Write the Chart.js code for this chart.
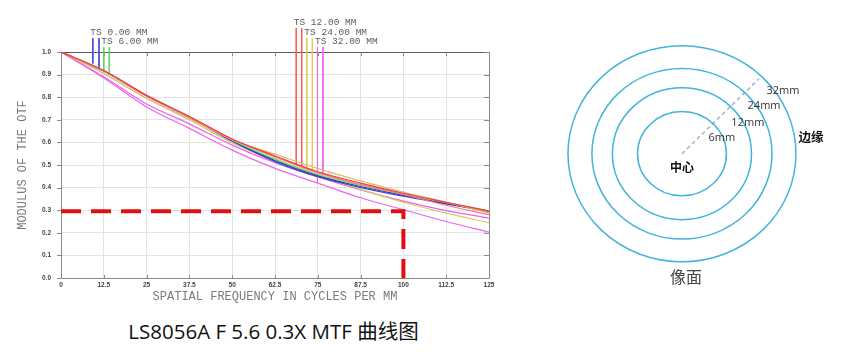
<!DOCTYPE html>
<html><head><meta charset="utf-8">
<script src="https://cdn.jsdelivr.net/npm/chart.js@4"></script>
<style>
html,body{margin:0;padding:0;background:#fff;width:842px;height:357px;overflow:hidden;position:relative;}
#c1{position:absolute;left:0;top:0;}
#c2{position:absolute;left:560px;top:20px;}
#cap{position:absolute;left:0;width:547px;top:317px;text-align:center;font-family:"Open Sans","Noto Sans CJK SC",sans-serif;font-size:20.5px;color:#111;line-height:28px;white-space:nowrap;}
</style></head><body>
<canvas id="c1" width="520" height="310"></canvas>
<canvas id="c2" width="282" height="280"></canvas>
<div id="cap">LS8056A F 5.6 0.3X MTF 曲线图</div>
<script>
// ---------- MTF data ----------
const freqs = [0, 12.5, 25, 37.5, 50, 62.5, 75, 87.5, 100, 112.5, 125];
const xTickLabels = ['0','12.5','25','37.5','50','62.5','75','87.5','100','112.5','125'];
const yTickLabels = ['0.0','0.1','0.2','0.3','0.4','0.5','0.6','0.7','0.8','0.9','1.0'];

const mtf0T  = [1.0, 0.915, 0.805, 0.710, 0.605, 0.515, 0.448, 0.400, 0.362, 0.328, 0.294];
const mtf0S  = [1.0, 0.917, 0.807, 0.712, 0.608, 0.520, 0.452, 0.405, 0.366, 0.330, 0.295];
const mtf6T  = [1.0, 0.916, 0.806, 0.712, 0.610, 0.525, 0.458, 0.410, 0.370, 0.333, 0.296];
const mtf6S  = [1.0, 0.917, 0.807, 0.713, 0.612, 0.528, 0.460, 0.412, 0.372, 0.334, 0.297];
const mtf12T = [1.0, 0.918, 0.808, 0.715, 0.615, 0.540, 0.470, 0.420, 0.375, 0.335, 0.296];
const mtf12S = [1.0, 0.917, 0.806, 0.713, 0.614, 0.536, 0.466, 0.414, 0.370, 0.322, 0.280];
const mtf24T = [1.0, 0.905, 0.795, 0.705, 0.612, 0.548, 0.484, 0.430, 0.380, 0.335, 0.288];
const mtf24S = [1.0, 0.905, 0.795, 0.700, 0.598, 0.520, 0.455, 0.392, 0.335, 0.287, 0.245];
const mtf32T = [1.0, 0.890, 0.770, 0.682, 0.588, 0.510, 0.447, 0.390, 0.340, 0.298, 0.265];
const mtf32S = [1.0, 0.885, 0.757, 0.662, 0.566, 0.485, 0.420, 0.355, 0.302, 0.250, 0.203];

const fieldLabels = ['TS 0.00 MM', 'TS 6.00 MM', 'TS 12.00 MM', 'TS 24.00 MM', 'TS 32.00 MM'];
// legend marker lines (T and S for each field)
const markerFreq = [9.3, 11.1, 12.5, 14.1, 68.7, 70.3, 71.8, 73.4, 74.9, 76.5];
const markerTop  = [1.062, 1.062, 1.021, 1.021, 1.105, 1.105, 1.062, 1.062, 1.021, 1.021];
const markerEnd  = [0.949, 0.927, 0.919, 0.907, 0.500, 0.496, 0.490, 0.481, 0.419, 0.463];

// reference line: MTF 0.3 at 100 lp/mm
const refFreq = [0, 100, 100];
const refMtf  = [0.295, 0.295, 0];

// ---------- ring diagram data ----------
const ringRadius = [1.95, 3.05, 3.95, 5.0];
const ringLabels = ['6mm', '12mm', '24mm', '32mm'];
const diagX = [0, 3.38];
const diagY = [0, 3.47];

// ---------- styles ----------
// first dataset is drawn on top in Chart.js, so list top-most curves first
const curveSeries = [mtf12T, mtf12S, mtf24T, mtf6S, mtf6T, mtf0S, mtf0T, mtf24S, mtf32T, mtf32S];
const curveColors = ['#ff3838','#ff6e8c','#e0b870','#8ee88e','#48c848','#3434b0','#4444f0','#d6cc5a','#f060f0','#e868e8'];
const markerColors = ['#4a4ae0','#4a4ae0','#5ad85a','#5ad85a','#ff5a5a','#ff5a5a','#d8d060','#d8d060','#f060f0','#f060f0'];

const datasets = [];
datasets.push({
  data: refFreq.map((f,i)=>({x:f, y:refMtf[i]})),
  borderColor:'#e01010', borderWidth:4, borderDash:[20,10], pointRadius:0, tension:0, showLine:true, clip:false, order:0
});
curveSeries.forEach((s,k)=>{
  datasets.push({
    data: freqs.map((f,i)=>({x:f, y:s[i]})),
    borderColor: curveColors[k], borderWidth:1.2, pointRadius:0,
    cubicInterpolationMode:'monotone', showLine:true, order:1
  });
});
markerFreq.forEach((f,i)=>{
  datasets.push({
    data:[{x:f,y:markerTop[i]},{x:f,y:markerEnd[i]}],
    borderColor: markerColors[i], borderWidth:1, pointRadius:0, showLine:true, clip:false, order:2
  });
});

const framePlugin = {
  id:'frame',
  beforeDatasetsDraw(chart){
    const {ctx, chartArea:a, scales:{x,y}} = chart;
    ctx.save();
    ctx.lineWidth = 1;
    ctx.strokeStyle = '#8a8a8a';
    ctx.beginPath();
    ctx.moveTo(a.left+0.5, a.top); ctx.lineTo(a.left+0.5, a.bottom+0.5);
    ctx.lineTo(a.right+0.5, a.bottom+0.5); ctx.lineTo(a.right+0.5, a.top);
    ctx.stroke();
    ctx.strokeStyle = '#5a5a5a';
    ctx.beginPath(); ctx.moveTo(a.left, a.top+0.5); ctx.lineTo(a.right+1, a.top+0.5); ctx.stroke();
    ctx.strokeStyle = '#8a8a8a';
    ctx.beginPath();
    x.ticks.forEach(t=>{
      const px = Math.round(x.getPixelForValue(t.value))+0.5;
      ctx.moveTo(px, a.top); ctx.lineTo(px, a.top+4);
      ctx.moveTo(px, a.bottom); ctx.lineTo(px, a.bottom-3);
    });
    y.ticks.forEach(t=>{
      const py = Math.round(y.getPixelForValue(t.value))+0.5;
      ctx.moveTo(a.left-4, py); ctx.lineTo(a.left, py);
      ctx.moveTo(a.right, py); ctx.lineTo(a.right-5, py);
    });
    ctx.stroke();
    ctx.restore();
  },
  afterDatasetsDraw(chart){
    const {ctx, scales:{x,y}} = chart;
    ctx.save();
    ctx.font = '9.5px "Liberation Mono", monospace';
    ctx.fillStyle = '#5c5c5c';
    ctx.textAlign = 'left';
    ctx.textBaseline = 'alphabetic';
    fieldLabels.forEach((t,i)=>{
      const k = i*2;
      ctx.fillText(t, x.getPixelForValue(markerFreq[k]) - 2.5, y.getPixelForValue(markerTop[k]) - 3);
    });
    ctx.restore();
  }
};

new Chart(document.getElementById('c1'), {
  type:'scatter',
  data:{datasets},
  options:{
    responsive:false, animation:false,
    layout:{padding:{top:52, right:31, left:0, bottom:0}},
    plugins:{legend:{display:false}, tooltip:{enabled:false}},
    scales:{
      x:{
        type:'linear', min:0, max:125,
        afterFit(s){ s.height = 32; },
        afterBuildTicks(s){ s.ticks = freqs.map(v=>({value:v})); },
        grid:{color:'#e3e3e3', drawTicks:false},
        border:{display:false},
        ticks:{padding:3, color:'#444', font:{family:'"Liberation Sans", sans-serif', size:6.5, weight:'bold'},
               callback:(v,i)=>xTickLabels[i], maxRotation:0, autoSkip:false},
        title:{display:true, text:'SPATIAL FREQUENCY IN CYCLES PER MM', color:'#7c7c7c',
               font:{family:'"Liberation Mono", monospace', size:12}, padding:{top:0,bottom:6}}
      },
      y:{
        type:'linear', min:0, max:1,
        afterFit(s){ s.width = 61; },
        afterBuildTicks(s){ s.ticks = yTickLabels.map((l,i)=>({value:i/10})); },
        grid:{color:'#e3e3e3', drawTicks:false},
        border:{display:false},
        ticks:{padding:10, color:'#444', font:{family:'"Liberation Sans", sans-serif', size:6.5, weight:'bold'},
               callback:(v,i)=>yTickLabels[i], autoSkip:false},
        title:{display:true, text:'MODULUS OF THE OTF', color:'#7c7c7c',
               font:{family:'"Liberation Mono", monospace', size:12}, padding:{top:16,bottom:0}}
      }
    }
  },
  plugins:[framePlugin]
});

// ---------- ring diagram ----------
const ringAnn = {
  ringLabelPos: [[1.75,0.73],[2.89,1.42],[3.60,2.21],[4.43,2.90]],
  texts: [
    {t:'边缘', x:5.66, y:0.77, font:'bold 12.5px "Noto Sans CJK SC"', color:'#111'},
    {t:'中心', x:0.0, y:-0.62, font:'bold 12px "Noto Sans CJK SC"', color:'#111'},
    {t:'像面', x:0.18, y:-5.71, font:'16px "Noto Sans CJK SC"', color:'#444'}
  ]
};
const ringPlugin = {
  id:'rings',
  afterDatasetsDraw(chart){
    const {ctx, scales:{x,y}} = chart;
    const cx = x.getPixelForValue(0), cy = y.getPixelForValue(0);
    ctx.save();
    ctx.strokeStyle = '#43b4da';
    ctx.lineWidth = 1.5;
    ringRadius.forEach(r=>{
      ctx.beginPath();
      ctx.ellipse(cx, cy, x.getPixelForValue(r)-cx, cy-y.getPixelForValue(r), 0, 0, Math.PI*2);
      ctx.stroke();
    });
    ctx.textAlign='center'; ctx.textBaseline='middle';
    ctx.font = '11px "Open Sans", sans-serif'; ctx.fillStyle = '#333';
    ringLabels.forEach((t,i)=>{
      const p = ringAnn.ringLabelPos[i];
      ctx.fillText(t, x.getPixelForValue(p[0]), y.getPixelForValue(p[1]));
    });
    ringAnn.texts.forEach(o=>{
      ctx.font = o.font; ctx.fillStyle = o.color;
      ctx.fillText(o.t, x.getPixelForValue(o.x), y.getPixelForValue(o.y));
    });
    ctx.restore();
  }
};
new Chart(document.getElementById('c2'), {
  type:'scatter',
  data:{datasets:[{
    data: diagX.map((v,i)=>({x:v, y:diagY[i]})),
    showLine:true, borderColor:'#9db3c9', borderWidth:1.5, borderDash:[4,3], pointRadius:0
  }]},
  options:{
    responsive:false, animation:false,
    layout:{padding:0},
    plugins:{legend:{display:false}, tooltip:{enabled:false}},
    scales:{
      x:{type:'linear', min:-5.35, max:7.02, display:false},
      y:{type:'linear', min:-6.77, max:6.19, display:false}
    }
  },
  plugins:[ringPlugin]
});
</script>
</body></html>
